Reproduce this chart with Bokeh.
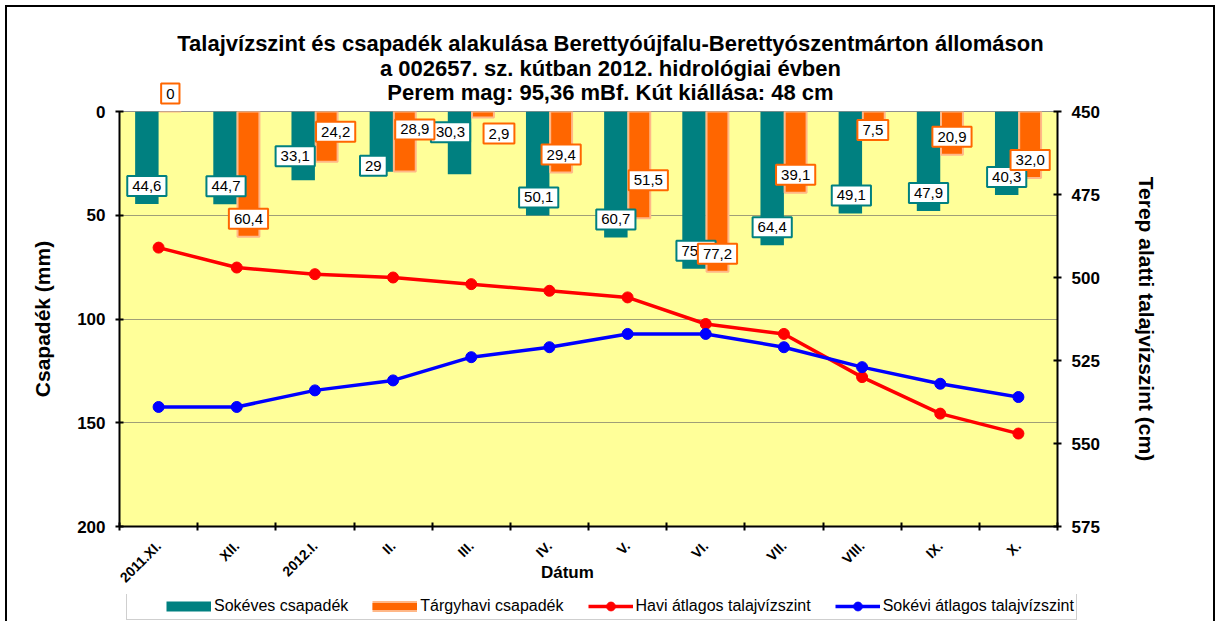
import math
import numpy as np
from bokeh.plotting import figure
from bokeh.layouts import column
from bokeh.models import (Range1d, LinearAxis, FixedTicker, Legend, LegendItem, Label)
from bokeh.embed import file_html
from bokeh.resources import INLINE

# ---------------- data ----------------
months = ["2011.XI.", "XII.", "2012.I.", "II.", "III.", "IV.", "V.", "VI.",
          "VII.", "VIII.", "IX.", "X."]
sokeves = [44.6, 44.7, 33.1, 29.0, 30.3, 50.1, 60.7, 75.8, 64.4, 49.1, 47.9, 40.3]
targyhavi = [0.0, 60.4, 24.2, 28.9, 2.9, 29.4, 51.5, 77.2, 39.1, 7.5, 20.9, 32.0]
sokeves_text = ["44,6", "44,7", "33,1", "29", "30,3", "50,1", "60,7", "75,8",
                "64,4", "49,1", "47,9", "40,3"]
targyhavi_text = ["0", "60,4", "24,2", "28,9", "2,9", "29,4", "51,5", "77,2",
                  "39,1", "7,5", "20,9", "32,0"]
havi_tv = [491, 497, 499, 500, 502, 504, 506, 514, 517, 530, 541, 547]
sokevi_tv = [539, 539, 534, 531, 524, 521, 517, 517, 521, 527, 532, 536]
left_ticks = [0, 50, 100, 150, 200]
right_ticks = [450, 475, 500, 525, 550, 575]
title_lines = ["Talajvízszint és csapadék alakulása Berettyóújfalu-Berettyószentmárton állomáson",
               "a 002657. sz. kútban 2012. hidrológiai évben",
               "Perem mag: 95,36 mBf. Kút kiállása: 48 cm"]
series_names = ["Sokéves csapadék", "Tárgyhavi csapadék",
                "Havi átlagos talajvízszint", "Sokévi átlagos talajvízszint"]

# label placement nudges in pixels (dx right, dy up)
teal_nudge = [(0, 18), (1, 18), (-8, 24), (-8, 6), (-9, 42), (1, 18), (0, 18),
              (2, 18), (0, 18), (1, 18), (0, 18), (0, 18)]
orange_nudge = [(0, 18), (0, 18), (9, 30), (10, 42), (16, -16), (0, 18), (9, 38),
                (0, 18), (0, 18), (-1, -3), (0, 18), (0, 18)]

TEAL = "#008080"
ORANGE = "#FF6600"
RED = "#FF0000"
BLUE = "#0000FF"
FONT = "Liberation Sans"

idx = np.arange(len(months)) + 0.5
teal_x = idx - 0.15
orange_x = idx + 0.15

p = figure(width=1220, height=594, x_range=Range1d(0, 12), y_range=Range1d(200, 0),
           output_backend="svg", toolbar_location=None, title=None,
           min_border_left=119, min_border_right=163, min_border_top=111,
           min_border_bottom=66, background_fill_color="#FFFF99",
           border_fill_color="white", border_fill_alpha=0.0,
           styles={"box-shadow": "inset 5px 0 0 0 white, inset -5px 0 0 0 white, "
                                 "inset 0 5px 0 0 white, inset 7px 0 0 0 black, "
                                 "inset -7px 0 0 0 black, inset 0 7px 0 0 black"})
p.extra_y_ranges = {"tv": Range1d(575, 450)}
p.outline_line_color = "#909090"
p.outline_line_width = 1

# title lines (placed in the top panel so they are not clipped by the frame)
for txt, up in zip(title_lines, [68, 43, 19]):
    p.add_layout(Label(x=6.0, y=0, x_offset=22, y_offset=up, text=txt,
                       text_align="center", text_baseline="middle",
                       text_font=FONT, text_font_size="22px", text_font_style="bold",
                       text_color="black"), "above")

# bars
p.vbar(x=teal_x, top=sokeves, bottom=0, width=0.3, fill_color=TEAL, line_color=None)
p.vbar(x=orange_x, top=targyhavi, bottom=0, width=0.28, fill_color=ORANGE,
       line_color="#FFB888", line_width=2)

# lines
p.line(idx, havi_tv, y_range_name="tv", line_color=RED, line_width=3.5)
p.scatter(idx, havi_tv, y_range_name="tv", size=11, fill_color=RED, line_color=RED)
p.line(idx, sokevi_tv, y_range_name="tv", line_color=BLUE, line_width=3.5)
p.scatter(idx, sokevi_tv, y_range_name="tv", size=11, fill_color=BLUE, line_color=BLUE)

# data labels
for xs, vals, texts, nudges, col in [
        (teal_x, sokeves, sokeves_text, teal_nudge, TEAL),
        (orange_x, targyhavi, targyhavi_text, orange_nudge, ORANGE)]:
    for i in range(len(vals)):
        dx, dy = nudges[i]
        lab = Label(x=xs[i], y=vals[i], text=texts[i], x_offset=dx, y_offset=dy,
                    text_align="center", text_baseline="middle",
                    text_font=FONT, text_font_size="15px", text_color="black",
                    background_fill_color="white", border_line_color=col,
                    border_line_width=2, padding=5)
        # a label that sits above the plot area goes to the top panel (no clipping)
        p.add_layout(lab, "above" if vals[i] == 0 else "center")

# axes
ax = p.yaxis[0]
ax.ticker = FixedTicker(ticks=left_ticks)
ax.axis_label = "Csapadék (mm)"

right = LinearAxis(y_range_name="tv", ticker=FixedTicker(ticks=right_ticks),
                   axis_label="Terep alatti talajvízszint (cm)")
p.add_layout(right, "right")

for a in [ax, right]:
    a.axis_line_width = 2
    a.axis_line_color = "black"
    a.major_tick_line_width = 2
    a.major_tick_line_color = "black"
    a.major_tick_in = 4
    a.major_tick_out = 4
    a.minor_tick_line_color = None
    a.major_label_text_font = FONT
    a.major_label_text_font_size = "17px"
    a.major_label_text_font_style = "bold"
    a.major_label_text_color = "black"
    a.major_label_standoff = 10
    a.axis_label_text_font = FONT
    a.axis_label_text_font_size = "21px"
    a.axis_label_text_font_style = "bold"
    a.axis_label_text_color = "black"
ax.axis_label_standoff = 20
right.axis_label_standoff = 32

xa = p.xaxis[0]
xa.ticker = FixedTicker(ticks=list(idx), minor_ticks=list(range(len(months) + 1)))
xa.major_label_overrides = {float(v): m for v, m in zip(idx, months)}
xa.major_label_orientation = math.pi / 4
xa.major_tick_line_color = None
xa.major_tick_in = 0
xa.major_tick_out = 4
xa.minor_tick_line_color = "black"
xa.minor_tick_line_width = 2
xa.minor_tick_in = 4
xa.minor_tick_out = 4
xa.axis_line_width = 2
xa.axis_line_color = "black"
xa.major_label_text_font = FONT
xa.major_label_text_font_size = "14px"
xa.major_label_text_font_style = "bold"
xa.major_label_text_color = "black"
xa.major_label_standoff = 13

# x axis title, kept in a side panel (data position, no clipping)
p.add_layout(Label(x=5.73, y=200, y_offset=-46, text="Dátum", text_align="center",
                   text_baseline="middle", text_font=FONT, text_font_size="17px",
                   text_font_style="bold", text_color="black"), "right")

p.xgrid.visible = False
p.ygrid.ticker = FixedTicker(ticks=left_ticks)
p.ygrid.grid_line_color = "#A09F78"
p.ygrid.grid_line_width = 1

# ---------------- legend strip ----------------
leg = figure(width=1220, height=27, x_range=Range1d(0, 1), y_range=Range1d(-2, -1),
             output_backend="svg", toolbar_location=None, title=None,
             x_axis_location=None, y_axis_location=None, min_border=0,
             background_fill_alpha=0.0, border_fill_alpha=0.0, outline_line_color=None,
             styles={"box-shadow": "inset 5px 0 0 0 white, inset -5px 0 0 0 white, "
                                   "inset 7px 0 0 0 black, inset -7px 0 0 0 black"})
leg.grid.visible = False
legend_x = 126
try:
    leg.frame_align = False
    p.frame_align = False
except AttributeError:
    legend_x = 7
# legend swatches: the series drawn in this strip fall outside its (empty) view
g_teal = leg.line(idx, sokeves, line_color=TEAL, line_width=10)
g_or_edge = leg.line(idx, targyhavi, line_color="#FFB888", line_width=11)
g_or = leg.line(idx, targyhavi, line_color=ORANGE, line_width=7)
g_red_l = leg.line(idx, havi_tv, line_color=RED, line_width=3.5)
g_red_s = leg.scatter(idx, havi_tv, fill_color=RED, line_color=RED)
g_blue_l = leg.line(idx, sokevi_tv, line_color=BLUE, line_width=3.5)
g_blue_s = leg.scatter(idx, sokevi_tv, fill_color=BLUE, line_color=BLUE)

legend = Legend(items=[
    LegendItem(label=series_names[0], renderers=[g_teal]),
    LegendItem(label=series_names[1], renderers=[g_or_edge, g_or]),
    LegendItem(label=series_names[2], renderers=[g_red_l, g_red_s]),
    LegendItem(label=series_names[3], renderers=[g_blue_l, g_blue_s]),
], orientation="horizontal", location=(legend_x, 1), glyph_width=45, glyph_height=22,
    label_standoff=3, spacing=24, padding=2, margin=0,
    title="\u00a0", title_location="left", title_standoff=19,
    title_text_font_size="16px",
    label_text_font=FONT, label_text_font_size="16px", label_text_color="black",
    border_line_color="#A0A0A0", border_line_width=1, background_fill_color="white")
leg.add_layout(legend, "center")

open("out.html", "w").write(file_html(column(p, leg, spacing=0), INLINE))
